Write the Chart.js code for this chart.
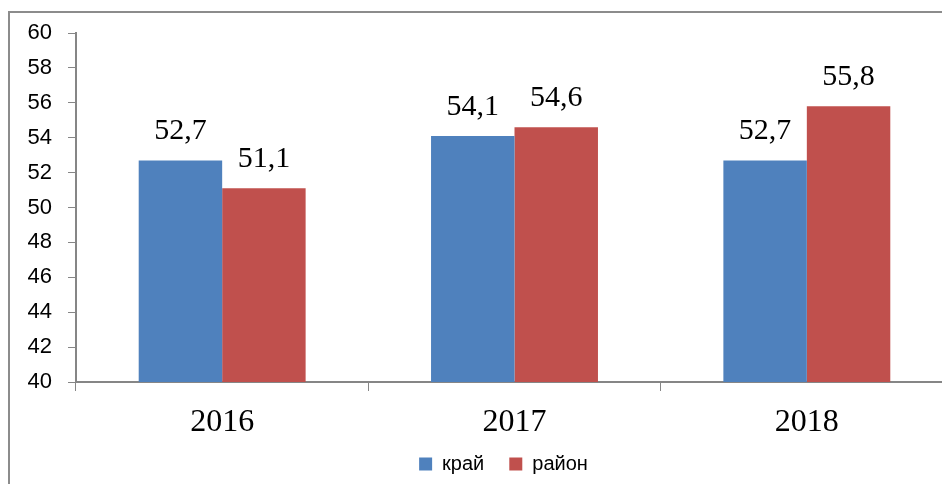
<!DOCTYPE html>
<html>
<head>
<meta charset="utf-8">
<script src="https://cdn.jsdelivr.net/npm/chart.js@4/dist/chart.umd.min.js"></script>
<style>
  html, body { margin: 0; padding: 0; background: #fff; overflow: hidden; }
  #frame {
    position: absolute; left: 8px; top: 11px; width: 1000px; height: 520px;
    border-left: 2px solid #8c8c8c; border-top: 2px solid #8c8c8c;
  }
  #wrap { position: absolute; left: 0; top: 0; width: 962px; height: 486px; }
</style>
</head>
<body>
<div id="frame"><div id="wrap"><canvas id="chart"></canvas></div></div>
<script>
const years = ["2016", "2017", "2018"];
const kraiValues = [52.7, 54.1, 52.7];
const raionValues = [51.1, 54.6, 55.8];
const seriesNames = ["край", "район"];
const yMin = 40, yMax = 60, yStep = 2;

const axisGray = "#868686";

// value labels over the bars, comma as decimal mark
const barLabels = {
  id: "barLabels",
  afterDatasetsDraw(chart) {
    const ctx = chart.ctx;
    ctx.save();
    ctx.font = "30px 'Liberation Serif', 'Times New Roman', serif";
    ctx.fillStyle = "#000";
    ctx.textAlign = "center";
    ctx.textBaseline = "alphabetic";
    chart.data.datasets.forEach((ds, i) => {
      chart.getDatasetMeta(i).data.forEach((bar, j) => {
        const txt = ds.data[j].toFixed(1).replace(".", ",");
        ctx.fillText(txt, bar.x, bar.y - 21);
      });
    });
    ctx.restore();
  }
};

// nudge the legend so it sits where the original one does
const legendShift = {
  id: "legendShift",
  afterLayout(chart) {
    const lg = chart.legend;
    lg.left += 22;
    lg.right += 22;
    lg.top -= 15;
    lg.bottom -= 15;
  }
};

new Chart(document.getElementById("chart"), {
  type: "bar",
  data: {
    labels: years,
    datasets: [
      { label: seriesNames[0], data: kraiValues, backgroundColor: "#4F81BD" },
      { label: seriesNames[1], data: raionValues, backgroundColor: "#C0504D" }
    ]
  },
  options: {
    responsive: true,
    maintainAspectRatio: false,
    animation: false,
    events: [],
    layout: { padding: { top: 20, right: 19, left: 0, bottom: 0 } },
    datasets: { bar: { barPercentage: 1, categoryPercentage: 0.571 } },
    plugins: {
      tooltip: { enabled: false },
      legend: {
        position: "bottom",
        labels: {
          boxWidth: 13,
          boxHeight: 13,
          padding: 25,
          color: "#000",
          font: { family: "'Liberation Sans', Arial, sans-serif", size: 20 }
        }
      }
    },
    scales: {
      x: {
        grid: { display: true, drawOnChartArea: false, drawTicks: true, tickLength: 9, color: axisGray, offset: true },
        border: { display: true, color: axisGray, width: 2 },
        ticks: {
          color: "#000",
          padding: 12,
          font: { family: "'Liberation Serif', 'Times New Roman', serif", size: 32 }
        },
        afterFit(scale) { scale.height = 62; }
      },
      y: {
        min: yMin,
        max: yMax,
        grid: { display: true, drawOnChartArea: false, drawTicks: true, tickLength: 8, color: axisGray },
        border: { display: true, color: axisGray, width: 2 },
        ticks: {
          stepSize: yStep,
          color: "#000",
          padding: 16,
          font: { family: "'Liberation Sans', Arial, sans-serif", size: 22 }
        },
        afterFit(scale) {
          scale.width = 66;
          scale.paddingTop = 0;
          scale.paddingBottom = 0;
        }
      }
    }
  },
  plugins: [barLabels, legendShift]
});
</script>
</body>
</html>
